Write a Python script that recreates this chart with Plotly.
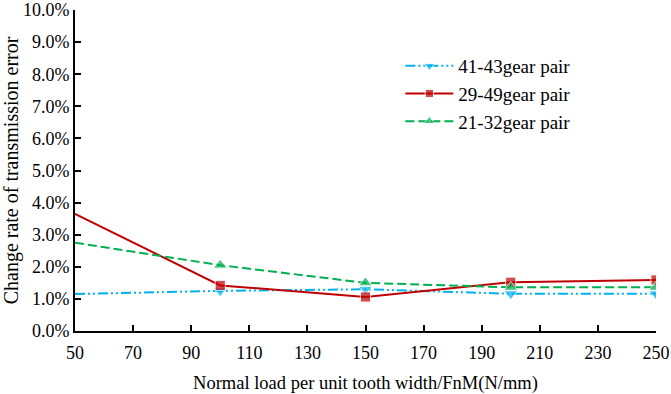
import plotly.graph_objects as go

x_load = [50, 100, 150, 200, 250]
pair_41_43 = [1.15, 1.25, 1.30, 1.16, 1.16]
pair_29_49 = [3.65, 1.42, 1.06, 1.52, 1.59]
pair_21_32 = [2.75, 2.05, 1.50, 1.36, 1.36]
names = ["41-43gear pair", "29-49gear pair", "21-32gear pair"]
y_ticks = [0, 1, 2, 3, 4, 5, 6, 7, 8, 9, 10]
y_tick_text = [f"{v:.1f}%" for v in y_ticks]
x_ticks = list(range(50, 251, 20))

font = "Liberation Serif"
sizes = [0] + [12] * (len(x_load) - 1)

fig = go.Figure()
fig.add_trace(go.Scatter(x=x_load, y=pair_41_43, name=names[0], mode="lines+markers",
                         line=dict(color="#00B0F0", width=2, dash="10px,3px,2px,3px,2px,3px"),
                         marker=dict(symbol="triangle-down", size=sizes, color="#00B0F0")))
fig.add_trace(go.Scatter(x=x_load, y=pair_29_49, name=names[1], mode="lines+markers",
                         line=dict(color="#C00000", width=2),
                         marker=dict(symbol="square", size=[s * 0.85 for s in sizes], color="#C00000")))
fig.add_trace(go.Scatter(x=x_load, y=pair_21_32, name=names[2], mode="lines+markers",
                         line=dict(color="#00B050", width=2, dash="9px,4px"),
                         marker=dict(symbol="triangle-up", size=sizes, color="#00B050")))

fig.update_layout(
    width=671, height=394,
    margin=dict(l=75, r=15, t=10, b=63, autoexpand=False),
    paper_bgcolor="white", plot_bgcolor="white",
    font=dict(family=font, size=18, color="black"),
    showlegend=True,
    legend=dict(x=0.56, y=0.885, xanchor="left", yanchor="top",
                bgcolor="rgba(0,0,0,0)", font=dict(size=19, family=font),
                itemwidth=48, tracegroupgap=0),
    xaxis=dict(range=[50, 250], tickvals=x_ticks, ticks="inside", ticklen=6,
               tickcolor="black", tickwidth=1.5, showline=True, linecolor="black",
               linewidth=2, showgrid=False, zeroline=False, automargin=False,
               tickfont=dict(size=18), ticklabeloverflow="allow", ticklabelstandoff=4,
               title=dict(text="Normal load per unit tooth width/FnM(N/mm)", standoff=16,
                          font=dict(size=18.5))),
    yaxis=dict(range=[0, 10], tickvals=y_ticks, ticktext=y_tick_text, ticks="inside",
               ticklen=6, tickcolor="black", tickwidth=1.5, showline=True,
               linecolor="black", linewidth=2, showgrid=False, zeroline=False,
               automargin=False, tickfont=dict(size=18), ticklabeloverflow="allow",
               title=dict(text="Change rate of transmission error", standoff=8,
                          font=dict(size=20))),
)

fig.write_html("out.html", config={"displayModeBar": False},
               post_script="document.body.style.margin='0';document.body.style.overflow='hidden';")
